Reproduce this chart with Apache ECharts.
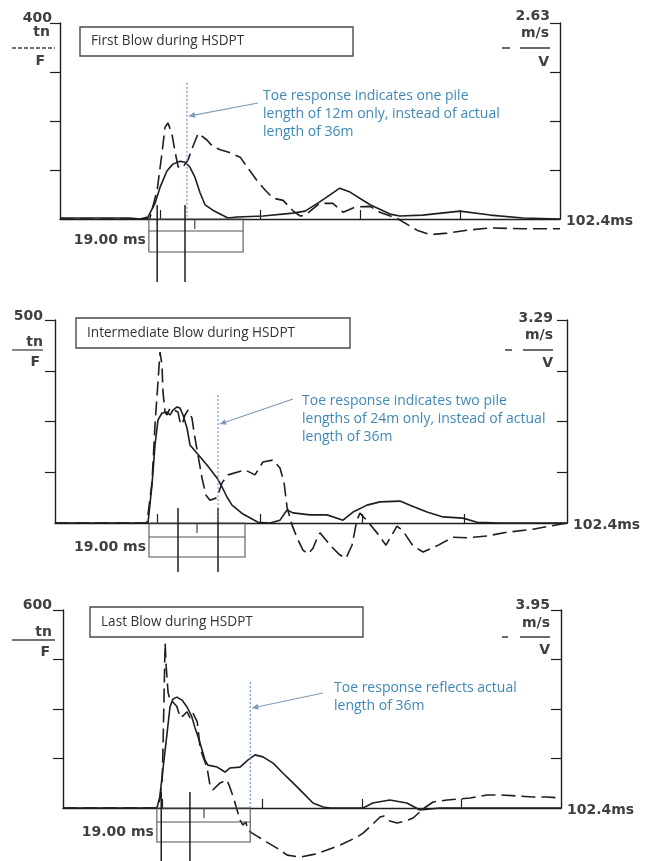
<!DOCTYPE html>
<html><head><meta charset="utf-8">
<script src="https://cdn.jsdelivr.net/npm/echarts@6/dist/echarts.min.js"></script>
<style>html,body{margin:0;padding:0;background:#fff}#c{width:651px;height:861px}</style>
</head><body><div id="c"></div>
<script>
// ---------- data ----------
const timeMax = 102.4;                       // ms
const timeTickValues = [20.48, 40.96, 61.44, 81.92];
const panelTitles = ['First Blow during HSDPT', 'Intermediate Blow during HSDPT', 'Last Blow during HSDPT'];
const forceMax = [400, 500, 600];            // tn
const velocityMax = [2.63, 3.29, 3.95];      // m/s
const forceUnit = 'tn';
const velocityUnit = 'm/s';
const windowLabel = '19.00 ms';
const timeEndLabel = '102.4ms';
const toeNotes = [
  ['Toe response indicates one pile', 'length of 12m only, instead of actual', 'length of 36m'],
  ['Toe response indicates two pile', 'lengths of 24m only, instead of actual', 'length of 36m'],
  ['Toe response reflects actual', 'length of 36m']
];
const toeTime = [26.0, 32.6, 38.5];          // dotted toe-response line, ms
const toeTopForce = [278, 315, 382];         // top of the dotted line, tn
const toeArrowForce = [210, 244, 303];       // arrow tip height, tn
const markerTimes = [[19.9, 25.6], [24.6, 32.6], [20.2, 26.1]];
const windowRange = [[18.2, 37.5], [18.8, 38.0], [19.3, 38.5]];
const windowTickTime = [27.6, 28.4, 29.0];

const p1Force = [[0,2],[14.3,2],[16.4,0],[18.0,4],[19.5,33],[20.5,65],[21.9,98],[23.1,112],[24.6,118],[25.6,116],[26.6,106],[27.6,86],[28.7,53],[29.7,29],[31.3,18],[33.2,8],[34.4,2],[36.2,4],[41.6,6],[47.7,12],[50.2,16],[53.2,35],[57.3,63],[59.4,55],[63.5,29],[67.6,10],[69.6,6],[74.3,8],[81.9,16],[88.1,8],[94.8,2],[102.4,0]];
const p1Velocity = [[0,0],[16.4,0],[18.4,0.01],[19.9,0.39],[20.9,0.89],[21.5,1.23],[22.1,1.29],[22.9,1.15],[23.6,0.89],[24.2,0.70],[25.0,0.68],[26.2,0.79],[27.2,0.97],[28.3,1.15],[28.7,1.17],[30.1,1.06],[31.3,0.97],[32.8,0.93],[34.4,0.90],[36.9,0.83],[38.3,0.70],[40.3,0.52],[42.0,0.39],[43.6,0.28],[45.7,0.25],[47.7,0.11],[49.2,0.04],[50.2,0.05],[53.2,0.21],[55.9,0.21],[58.0,0.09],[60.4,0.16],[63.5,0.17],[65.5,0.09],[69.0,0.01],[73.1,-0.15],[75.8,-0.21],[79.3,-0.19],[83.4,-0.15],[88.1,-0.12],[94.8,-0.13],[102.4,-0.13]];

const p2Force = [[0,0],[18.6,0],[19.4,94],[20.0,192],[20.6,254],[21.4,271],[22.4,273],[23.0,266],[23.6,278],[24.4,286],[25.0,283],[25.6,266],[26.4,234],[27.0,192],[28.4,172],[30.4,143],[32.4,111],[33.4,89],[34.4,64],[35.4,44],[37.6,22],[40.6,2],[43.0,0],[45.0,7],[46.4,32],[47.6,25],[51.0,20],[54.4,20],[57.6,7],[59.6,27],[62.4,44],[65.0,52],[69.0,54],[71.0,44],[74.4,27],[77.6,15],[81.6,12],[84.4,2],[89.0,0],[102.4,0]];
const p2Velocity = [[0,0],[18.4,0],[19.4,0.66],[20.0,1.59],[20.6,2.29],[21.0,2.77],[21.4,2.56],[21.6,2.12],[22.0,1.80],[22.4,1.75],[23.0,1.86],[24.6,1.80],[25.0,1.64],[25.4,1.59],[26.0,1.75],[26.6,1.83],[27.4,1.70],[27.8,1.47],[28.6,1.10],[29.4,0.73],[30.2,0.45],[31.0,0.37],[32.4,0.41],[33.4,0.65],[34.6,0.78],[38.0,0.86],[40.0,0.78],[41.6,0.99],[43.6,1.02],[45.0,0.89],[45.8,0.66],[46.4,0.26],[47.4,-0.03],[48.4,-0.24],[49.6,-0.44],[50.6,-0.50],[51.6,-0.41],[52.6,-0.21],[53.0,-0.16],[55.6,-0.41],[57.0,-0.52],[58.2,-0.57],[59.4,-0.36],[60.4,0.05],[61.0,0.16],[62.6,0.02],[64.4,-0.16],[66.2,-0.36],[68.4,-0.05],[69.6,-0.13],[71.6,-0.37],[73.6,-0.47],[76.4,-0.37],[79.6,-0.23],[82.4,-0.24],[86.4,-0.21],[90.4,-0.15],[95.6,-0.10],[102.4,0]];

const p3Force = [[0,0],[19.3,0],[19.9,33],[20.6,124],[21.4,227],[22.0,306],[22.6,330],[23.4,336],[24.5,327],[25.5,306],[26.5,276],[27.1,245],[27.8,215],[28.6,176],[29.2,145],[29.8,130],[31.7,124],[33.3,109],[34.3,121],[36.4,124],[38.0,145],[39.5,161],[41.1,155],[43.2,136],[45.2,106],[47.3,76],[49.4,45],[51.4,15],[53.5,3],[54.9,0],[61.7,0],[63.7,15],[67.2,24],[70.7,15],[73.4,-6],[77.5,0],[102.4,0]];
const p3Velocity = [[0,0],[19.3,0],[19.9,0.16],[20.4,0.56],[20.6,1.36],[20.8,2.35],[21.0,3.29],[21.2,2.85],[21.6,2.31],[22.0,2.15],[22.6,2.11],[23.4,2.03],[24.1,1.80],[24.7,1.84],[25.5,1.92],[26.1,1.80],[26.7,1.90],[27.6,1.72],[28.2,1.20],[28.8,1.02],[29.6,0.82],[30.2,0.46],[30.8,0.36],[32.3,0.50],[33.7,0.56],[34.3,0.42],[35.2,0.16],[35.8,-0.04],[36.4,-0.24],[37.0,-0.34],[37.6,-0.28],[38.0,-0.44],[38.9,-0.50],[39.9,-0.56],[41.9,-0.68],[44.0,-0.80],[46.1,-0.94],[48.7,-0.98],[51.8,-0.92],[54.3,-0.84],[57.0,-0.74],[60.5,-0.58],[61.7,-0.50],[63.5,-0.34],[65.2,-0.18],[66.0,-0.16],[67.2,-0.26],[68.7,-0.30],[70.3,-0.26],[72.0,-0.20],[74.0,-0.02],[76.1,0.12],[79.0,0.16],[83.7,0.20],[87.2,0.26],[89.9,0.26],[96.6,0.22],[99.5,0.22],[102.4,0.20]];

const forceSeries = [p1Force, p2Force, p3Force];
const velocitySeries = [p1Velocity, p2Velocity, p3Velocity];

// ---------- layout (pixels) ----------
const grids = [
  {left: 60, top: 23, width: 500, height: 196},
  {left: 55, top: 320, width: 512, height: 203},
  {left: 63, top: 610, width: 498, height: 198}
];
const titleBoxes = [
  {x: 80, y: 27, w: 273, h: 29},
  {x: 76, y: 318, w: 274, h: 30},
  {x: 90, y: 607, w: 273, h: 30}
];
const notePos = [{x: 263, y: 96}, {x: 302, y: 401}, {x: 334, y: 688}];
const arrowStart = [{dx: -5, dy: 7}, {dx: -9, dy: -2}, {dx: -11, dy: 5}];
const markerSpan = [[-14, 63], [-15, 49], [-16, 55]];
const leftLabelDash = [true, false, false];
// left labels: [value x, value y, unit x, unit y, line x1, line x2, line y, F x, F y] relative to axis top-left
const leftLab = [
  [-8, -5, -10, 9, -48, -5, 25, -15, 38],
  [-12, -4, -12, 22, -43, -12, 30, -15, 42],
  [-11, -5, -11, 22, -51, -8, 30, -13, 42]
];
// right labels: [value x, value y, unit x, unit y, short x1, short x2, long x1, long x2, line y, V x, V y]
const rightLab = [
  [-10, -7, -11, 10, -58, -50, -40, -10, 25, -11, 39],
  [-14, -2, -14, 15, -62, -55, -44, -14, 30, -14, 43],
  [-11, -5, -11, 13, -59, -53, -41, -11, 27, -11, 40]
];
const windowRows = [[12, 33, 21], [14, 34, 24], [14, 34, 24]];

const chart = echarts.init(document.getElementById('c'), null, {renderer: 'canvas'});
const INK = '#1e1e1e';
const xAxes = [], yAxes = [], series = [];
grids.forEach((g, i) => {
  xAxes.push({
    gridIndex: i, type: 'value', min: 0, max: timeMax,
    axisLine: {show: true, onZero: false, lineStyle: {color: INK, width: 1.4}},
    axisTick: {show: true, inside: true, length: 9, customValues: timeTickValues, lineStyle: {color: INK, width: 1.2}},
    axisLabel: {show: false}, splitLine: {show: false}
  });
  yAxes.push({
    gridIndex: i, type: 'value', min: 0, max: forceMax[i], position: 'left',
    axisLine: {show: true, lineStyle: {color: INK, width: 1.4}},
    axisTick: {show: true, inside: false, length: 10,
      customValues: [1, 2, 3, 4].map(k => forceMax[i] * k / 4), lineStyle: {color: INK, width: 1.2}},
    axisLabel: {show: false}, splitLine: {show: false}
  });
  yAxes.push({
    gridIndex: i, type: 'value', min: 0, max: velocityMax[i], position: 'right',
    axisLine: {show: true, lineStyle: {color: INK, width: 1.4}},
    axisTick: {show: true, inside: true, length: 10,
      customValues: [1, 2, 3, 4].map(k => velocityMax[i] * k / 4), lineStyle: {color: INK, width: 1.2}},
    axisLabel: {show: false}, splitLine: {show: false}
  });
  series.push({
    type: 'line', name: 'F' + (i + 1), xAxisIndex: i, yAxisIndex: 2 * i,
    data: forceSeries[i], showSymbol: false, clip: false, smooth: false, z: 3,
    lineStyle: {color: INK, width: 1.6}, silent: true, animation: false
  });
  series.push({
    type: 'line', name: 'V' + (i + 1), xAxisIndex: i, yAxisIndex: 2 * i + 1,
    data: velocitySeries[i], showSymbol: false, clip: false, smooth: false, z: 3,
    lineStyle: {color: INK, width: 1.6, type: [14, 6]}, silent: true, animation: false
  });
});

chart.setOption({
  animation: false,
  backgroundColor: '#ffffff',
  grid: grids.map(g => Object.assign({containLabel: false}, g)),
  xAxis: xAxes, yAxis: yAxes, series: series
});

// ---------- decorations placed through the axes ----------
const LABEL_FONT = 'bold 14px "DejaVu Sans"';
const TEXT_C = '#404040';
const NOTE_FONT = '14px "Open Sans"';
const graphics = [];
function px(i, t, f) { return chart.convertToPixel({seriesIndex: 2 * i}, [t, f]); }
function text(str, x, y, font, fill, align) {
  graphics.push({type: 'text', z: 20, silent: true,
    style: {text: str, x: x, y: y, font: font, fill: fill, align: align || 'left', verticalAlign: 'middle'}});
}
function line(x1, y1, x2, y2, stroke, w, dash) {
  graphics.push({type: 'line', z: 15, silent: true, shape: {x1, y1, x2, y2},
    style: {stroke: stroke, lineWidth: w, lineDash: dash || null}});
}

grids.forEach((g, i) => {
  const base = px(i, 0, 0)[1];
  const xL = px(i, 0, 0)[0];
  const xR = px(i, timeMax, 0)[0];
  const yTop = px(i, 0, forceMax[i])[1];

  // title box
  const tb = titleBoxes[i];
  graphics.push({type: 'rect', z: 12, silent: true, shape: {x: tb.x, y: tb.y, width: tb.w, height: tb.h},
    style: {fill: '#ffffff', stroke: '#4a4a4a', lineWidth: 1.4}});
  text(panelTitles[i], tb.x + 11, tb.y + tb.h / 2, '13.6px "Open Sans"', '#333333');

  // left axis annotation
  const L = leftLab[i];
  text(String(forceMax[i]), xL + L[0], yTop + L[1], LABEL_FONT, TEXT_C, 'right');
  text(forceUnit, xL + L[2], yTop + L[3], LABEL_FONT, TEXT_C, 'right');
  line(xL + L[4], yTop + L[6], xL + L[5], yTop + L[6], '#444', 1.3, leftLabelDash[i] ? [4, 2] : null);
  text('F', xL + L[7], yTop + L[8], LABEL_FONT, TEXT_C, 'right');

  // right axis annotation
  const R = rightLab[i];
  text(String(velocityMax[i]), xR + R[0], yTop + R[1], LABEL_FONT, TEXT_C, 'right');
  text(velocityUnit, xR + R[2], yTop + R[3], LABEL_FONT, TEXT_C, 'right');
  line(xR + R[4], yTop + R[8], xR + R[5], yTop + R[8], '#444', 1.6);
  line(xR + R[6], yTop + R[8], xR + R[7], yTop + R[8], '#444', 1.6);
  text('V', xR + R[9], yTop + R[10], LABEL_FONT, TEXT_C, 'right');

  // time end label
  text(timeEndLabel, xR + 6, base + 2, LABEL_FONT, TEXT_C, 'left');

  // window box under the baseline
  const wx1 = px(i, windowRange[i][0], 0)[0];
  const wx2 = px(i, windowRange[i][1], 0)[0];
  const W = windowRows[i];
  graphics.push({type: 'rect', z: 14, silent: true, shape: {x: wx1, y: base, width: wx2 - wx1, height: W[1]},
    style: {fill: null, stroke: '#555', lineWidth: 1.1}});
  line(wx1, base + W[0], wx2, base + W[0], '#555', 1.1);
  text(windowLabel, wx1 - 3, base + W[2], LABEL_FONT, TEXT_C, 'right');
  const wt = px(i, windowTickTime[i], 0)[0];
  line(wt, base, wt, base + 10, '#444', 1.2);

  // vertical marker lines
  markerTimes[i].forEach(t => {
    const mx = px(i, t, 0)[0];
    line(mx, base + markerSpan[i][0], mx, base + markerSpan[i][1], INK, 1.5);
  });

  // dotted toe-response line
  const tx = px(i, toeTime[i], 0)[0];
  const ty = px(i, toeTime[i], toeTopForce[i])[1];
  line(tx, ty, tx, base, '#6f8fd0', 1.2, [2, 2]);

  // arrow
  const tip = px(i, toeTime[i], toeArrowForce[i]);
  const ax = notePos[i].x + arrowStart[i].dx, ay = notePos[i].y + arrowStart[i].dy;
  const ex = tip[0] + 2, ey = tip[1];
  line(ax, ay, ex, ey, '#7f98b8', 1.1);
  const ang = Math.atan2(ey - ay, ex - ax), AL = 6, AW = 3;
  const bx = ex - AL * Math.cos(ang), by = ey - AL * Math.sin(ang);
  graphics.push({type: 'polygon', z: 16, silent: true, shape: {points: [[ex, ey],
    [bx + AW * Math.sin(ang), by - AW * Math.cos(ang)], [bx - AW * Math.sin(ang), by + AW * Math.cos(ang)]]},
    style: {fill: '#7f98b8'}});

  // note text
  toeNotes[i].forEach((s, k) => text(s, notePos[i].x, notePos[i].y + k * 18, NOTE_FONT, '#3f88b5'));
});

chart.setOption({graphic: graphics});
</script>
</body></html>
